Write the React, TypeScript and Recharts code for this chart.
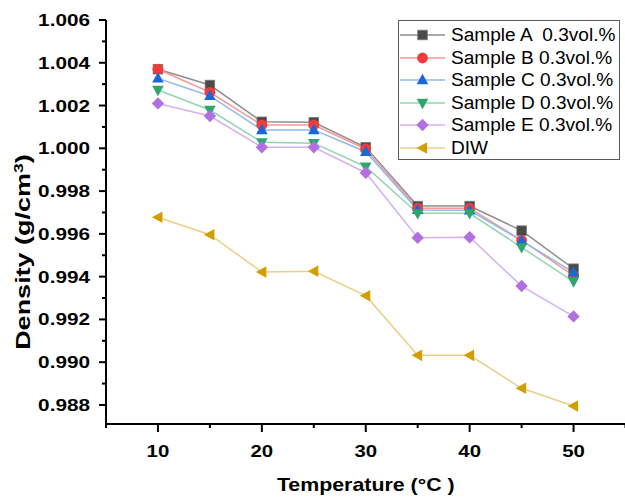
import React from 'react';
import { LineChart, Line, XAxis, YAxis, Legend, Label } from 'recharts';

const temperatures = [10, 15, 20, 25, 30, 35, 40, 45, 50];
const sampleA = [1.0037, 1.00296, 1.00124, 1.00122, 1.00005, 0.9973, 0.9973, 0.99615, 0.99437];
const sampleB = [1.0037, 1.00262, 1.00109, 1.00109, 0.99997, 0.9972, 0.9972, 0.9957, 0.99405];
const sampleC = [1.00327, 1.00245, 1.00086, 1.00086, 0.99984, 0.99712, 0.9971, 0.99568, 0.9942];
const sampleD = [1.00273, 1.00179, 1.00028, 1.00024, 0.99914, 0.99696, 0.99696, 0.99537, 0.99377];
const sampleE = [1.0021, 1.00151, 1.00005, 1.00005, 0.99886, 0.99582, 0.99584, 0.99356, 0.99214];
const diw = [0.99678, 0.99596, 0.99422, 0.99425, 0.99311, 0.99032, 0.99032, 0.98878, 0.98795];

const seriesNames = [
  'Sample A  0.3vol.%',
  'Sample B 0.3vol.%',
  'Sample C 0.3vol.%',
  'Sample D 0.3vol.%',
  'Sample E 0.3vol.%',
  'DIW',
];
const seriesKeys = ['a', 'b', 'c', 'd', 'e', 'diw'];
const seriesValues = [sampleA, sampleB, sampleC, sampleD, sampleE, diw];
const markerShapes = ['square', 'circle', 'triUp', 'triDown', 'diamond', 'triLeft'];
const markerColors = ['#4a4a4a', '#f23c3c', '#1a68d8', '#2ca86c', '#b26fe0', '#d39e00'];
const lineColors = ['#8e8e8e', '#f59a9a', '#8fb8ee', '#93d6b2', '#d6b0f2', '#eccf86'];

const xMajorTicks = [10, 20, 30, 40, 50];
const xMinorTicks = [5, 15, 25, 35, 45, 55];
const yMajorTicks = [0.988, 0.99, 0.992, 0.994, 0.996, 0.998, 1.0, 1.002, 1.004, 1.006];
const yMinorTicks = [0.989, 0.991, 0.993, 0.995, 0.997, 0.999, 1.001, 1.003, 1.005];

const xTicks = [...xMajorTicks, ...xMinorTicks].sort((p, q) => p - q);
const yTicks = [...yMajorTicks, ...yMinorTicks].sort((p, q) => p - q);

const data = temperatures.map((t, i) => {
  const row: any = { t };
  seriesKeys.forEach((k, j) => {
    row[k] = seriesValues[j][i];
  });
  return row;
});

const FONT = '"Liberation Sans", Arial, Helvetica, sans-serif';

function Marker({ shape, cx, cy, fill }: { shape: string; cx: number; cy: number; fill: string }) {
  if (cx == null || cy == null) return null;
  switch (shape) {
    case 'square':
      return <rect x={cx - 4.8} y={cy - 4.8} width={9.6} height={9.6} fill={fill} stroke="#7a7a7a" strokeWidth={0.8} />;
    case 'circle':
      return <circle cx={cx} cy={cy} r={5.4} fill={fill} />;
    case 'triUp':
      return <polygon points={`${cx},${cy - 6.2} ${cx + 5.8},${cy + 4.2} ${cx - 5.8},${cy + 4.2}`} fill={fill} />;
    case 'triDown':
      return <polygon points={`${cx},${cy + 6.2} ${cx + 5.8},${cy - 4.2} ${cx - 5.8},${cy - 4.2}`} fill={fill} />;
    case 'diamond':
      return <polygon points={`${cx},${cy - 6.2} ${cx + 6.2},${cy} ${cx},${cy + 6.2} ${cx - 6.2},${cy}`} fill={fill} />;
    case 'triLeft':
      return <polygon points={`${cx - 6},${cy} ${cx + 4.5},${cy - 5.8} ${cx + 4.5},${cy + 5.8}`} fill={fill} />;
    default:
      return null;
  }
}

const Y_TICK_SIZE = 6;
const Y_TICK_MARGIN = 4;
const X_TICK_SIZE = 6;
const X_TICK_MARGIN = 4;

function YTick(props: any) {
  const { x, y, payload } = props;
  const v = payload.value as number;
  const major = Math.round(v * 1000) % 2 === 0;
  const ax = x + Y_TICK_SIZE + Y_TICK_MARGIN;
  return (
    <g>
      <line x1={ax} x2={ax - (major ? 7 : 4)} y1={y} y2={y} stroke="#000" strokeWidth={2} />
      {major && (
        <text
          transform={`translate(${ax - 16},${y + 6}) scale(1.22,1)`}
          textAnchor="end"
          fontFamily={FONT}
          fontWeight="bold"
          fontSize={17}
          fill="#000"
        >
          {v.toFixed(3)}
        </text>
      )}
    </g>
  );
}

function XTick(props: any) {
  const { x, y, payload } = props;
  const v = payload.value as number;
  const major = v % 10 === 0;
  const ay = y - X_TICK_SIZE - X_TICK_MARGIN;
  return (
    <g>
      <line x1={x} x2={x} y1={ay} y2={ay + (major ? 8 : 4)} stroke="#000" strokeWidth={2} />
      {major && (
        <text
          transform={`translate(${x},${ay + 32.5}) scale(1.2,1)`}
          textAnchor="middle"
          fontFamily={FONT}
          fontWeight="bold"
          fontSize={17}
          fill="#000"
        >
          {v}
        </text>
      )}
    </g>
  );
}

function XTitle(props: any) {
  const vb = props.viewBox;
  const cx = vb.x + vb.width / 2;
  return (
    <text
      transform={`translate(${cx},${vb.y + 66.5}) scale(1.22,1)`}
      textAnchor="middle"
      fontFamily={FONT}
      fontWeight="bold"
      fontSize={17.5}
      fill="#000"
    >
      Temperature (°C )
    </text>
  );
}

function YTitle(props: any) {
  const vb = props.viewBox;
  const cy = vb.y + vb.height / 2 + 30;
  return (
    <text
      transform={`translate(${vb.x + 30},${cy}) rotate(-90) scale(1.35,1)`}
      textAnchor="middle"
      fontFamily={FONT}
      fontWeight="bold"
      fontSize={20}
      fill="#000"
    >
      Density (g/cm
      <tspan dy={-7} fontSize={13}>3</tspan>
      <tspan dy={7}>)</tspan>
    </text>
  );
}

function LegendBox() {
  return (
    <div
      style={{
        position: 'relative',
        width: 222,
        height: 140,
        boxSizing: 'border-box',
        border: '1.5px solid #5a5a5a',
        background: '#fff',
        fontFamily: FONT,
      }}
    >
      {seriesNames.map((name, i) => (
        <div
          key={name}
          style={{
            position: 'absolute',
            left: 0,
            top: 14 + i * 22.5 - 11,
            height: 22,
            display: 'flex',
            alignItems: 'center',
          }}
        >
          <svg width={52} height={22} style={{ display: 'block' }}>
            <line x1={1} x2={46} y1={11} y2={11} stroke={lineColors[i]} strokeWidth={1.5} />
            <Marker shape={markerShapes[i]} cx={23.5} cy={11} fill={markerColors[i]} />
          </svg>
          <span
            style={{
              whiteSpace: 'pre',
              fontSize: 18,
              color: '#000',
              display: 'inline-block',
              transform: 'scaleX(1.06)',
              transformOrigin: 'left center',
              lineHeight: '22px',
            }}
          >
            {name}
          </span>
        </div>
      ))}
    </div>
  );
}

export default function App() {
  return (
    <div style={{ position: 'fixed', left: 0, top: 0, width: 625, height: 499, overflow: 'hidden', background: '#fff' }}>
      <LineChart width={640} height={499} data={data} margin={{ top: 20, right: 14.5, bottom: 0, left: 0 }}>
        <XAxis
          dataKey="t"
          type="number"
          domain={[5, 55]}
          ticks={xTicks}
          interval={0}
          height={75}
          tickSize={X_TICK_SIZE}
          tickMargin={X_TICK_MARGIN}
          tickLine={false}
          tick={<XTick />}
          axisLine={{ stroke: '#000', strokeWidth: 2 }}
          allowDataOverflow
        >
          <Label content={<XTitle />} position="bottom" />
        </XAxis>
        <XAxis
          xAxisId="top"
          orientation="top"
          type="number"
          domain={[5, 55]}
          height={0}
          tick={false}
          tickLine={false}
          axisLine={{ stroke: '#000', strokeWidth: 2 }}
        />
        <YAxis
          type="number"
          domain={[0.98711, 1.006]}
          ticks={yTicks}
          interval={0}
          width={106}
          tickSize={Y_TICK_SIZE}
          tickMargin={Y_TICK_MARGIN}
          tickLine={false}
          tick={<YTick />}
          axisLine={{ stroke: '#000', strokeWidth: 2 }}
          allowDataOverflow
        >
          <Label content={<YTitle />} position="left" />
        </YAxis>
        <Legend
          layout="vertical"
          align="center"
          verticalAlign="middle"
          content={<LegendBox />}
          wrapperStyle={{ position: 'absolute', left: 398, top: 20, width: 222, height: 140, right: 'auto', bottom: 'auto', margin: 0 }}
        />
        {seriesKeys.map((k, i) => (
          <Line
            key={k}
            dataKey={k}
            name={seriesNames[i]}
            type="linear"
            stroke={lineColors[i]}
            strokeWidth={1.5}
            isAnimationActive={false}
            activeDot={false}
            dot={(p: any) => (
              <Marker key={`${k}-${p.index}`} shape={markerShapes[i]} cx={p.cx} cy={p.cy} fill={markerColors[i]} />
            )}
          />
        ))}
      </LineChart>
    </div>
  );
}
